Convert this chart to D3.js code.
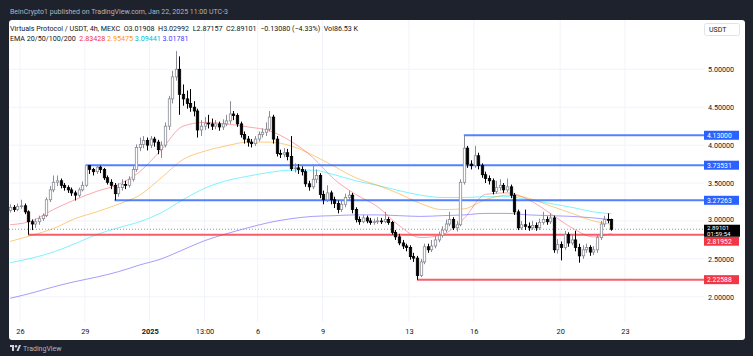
<!DOCTYPE html>
<html><head><meta charset="utf-8">
<script src="https://cdn.jsdelivr.net/npm/d3@7"></script>
<style>
html,body{margin:0;padding:0;background:#1e222d;}
svg{display:block;font-family:Roboto,"Liberation Sans",sans-serif;}
</style></head>
<body>
<svg id="c" width="753" height="356"></svg>
<script>
// ---------- DATA ----------
const firstOpen = 3.14;
const closes = [
3.18,3.15,3.19,3.20,3.12,2.99,2.96,2.99,3.03,3.07,
3.28,3.41,3.51,3.53,3.47,3.44,3.41,3.37,3.34,3.41,
3.47,3.73,3.68,3.65,3.71,3.68,3.57,3.51,3.47,3.36,
3.44,3.48,3.47,3.55,3.68,3.97,4.01,4.06,4.00,4.08,
4.04,3.94,4.00,4.25,4.61,4.90,5.00,4.67,4.61,4.55,
4.50,4.45,4.20,4.25,4.29,4.28,4.25,4.28,4.24,4.28,
4.32,4.41,4.39,4.28,4.14,4.08,4.04,4.02,4.08,4.14,
4.17,4.21,4.37,4.08,3.89,3.88,3.90,3.85,3.69,3.70,
3.68,3.65,3.49,3.45,3.55,3.60,3.35,3.28,3.37,3.28,
3.23,3.15,3.22,3.31,3.34,3.15,3.02,2.99,3.04,3.00,
2.98,2.99,3.00,2.99,3.02,2.98,2.85,2.79,2.71,2.67,
2.65,2.53,2.51,2.28,2.46,2.66,2.62,2.67,2.75,2.81,
2.88,2.96,3.02,2.91,2.95,3.51,3.96,3.75,3.73,3.86,
3.73,3.61,3.56,3.53,3.39,3.44,3.47,3.41,3.45,3.34,
3.12,2.91,2.95,2.93,2.91,2.94,2.91,2.98,3.02,2.99,
3.04,2.62,2.69,2.65,2.82,2.71,2.75,2.65,2.54,2.62,
2.65,2.59,2.62,2.78,2.96,3.02,3.01908,2.89101];
const highs = [
3.22,3.21,3.23,3.28,3.23,3.14,3.02,3.03,3.07,3.10,
3.31,3.46,3.60,3.60,3.56,3.50,3.47,3.44,3.40,3.44,
3.52,3.7353,3.72,3.70,3.73,3.73,3.70,3.60,3.55,3.50,
3.50,3.55,3.53,3.59,3.72,4.01,4.10,4.12,4.10,4.12,
4.11,4.07,4.05,4.30,4.65,4.98,5.24,5.17,4.80,4.72,
4.74,4.58,4.48,4.33,4.37,4.40,4.35,4.33,4.31,4.34,
4.40,4.58,4.45,4.42,4.31,4.18,4.12,4.08,4.12,4.18,
4.22,4.30,4.45,4.40,4.12,3.94,3.96,3.95,4.12,3.76,
3.75,3.72,3.68,3.53,3.75,3.68,3.63,3.40,3.47,3.40,
3.32,3.27,3.28,3.36,3.40,3.37,3.18,3.06,3.08,3.07,
3.04,3.03,3.05,3.04,3.12,3.05,3.00,2.88,2.83,2.75,
2.70,2.68,2.58,2.54,2.50,2.70,2.70,2.75,2.80,2.86,
2.93,3.02,3.12,3.05,3.00,3.55,4.13,3.99,3.80,3.99,
3.90,3.76,3.65,3.60,3.56,3.53,3.55,3.50,3.56,3.48,
3.37,3.15,3.00,3.15,2.98,3.00,2.98,3.03,3.12,3.06,
3.10,3.07,2.76,2.73,2.87,2.85,2.82,2.87,2.70,2.68,
2.70,2.68,2.67,2.82,3.00,3.07,3.10,3.02992];
const lows = [
3.11,3.12,3.13,3.16,3.09,2.82,2.88,2.91,2.95,3.00,
3.05,3.25,3.38,3.46,3.43,3.40,3.37,3.33,3.27,3.31,
3.39,3.45,3.62,3.60,3.62,3.63,3.54,3.48,3.42,3.2726,
3.32,3.40,3.42,3.44,3.52,3.65,3.92,3.96,3.93,3.96,
3.98,3.88,3.83,3.97,4.20,4.55,4.85,4.40,4.52,4.48,
4.44,4.38,4.10,4.12,4.20,4.22,4.20,4.21,4.19,4.20,
4.25,4.28,4.33,4.24,4.10,4.02,3.98,3.97,3.99,4.05,
4.10,4.12,4.18,4.02,3.85,3.83,3.84,3.80,3.66,3.64,
3.62,3.60,3.45,3.40,3.42,3.50,3.30,3.22,3.25,3.22,
3.17,3.10,3.12,3.18,3.27,3.10,2.98,2.95,2.97,2.97,
2.95,2.95,2.96,2.96,2.97,2.95,2.82,2.75,2.68,2.63,
2.60,2.49,2.46,2.2259,2.26,2.43,2.58,2.59,2.64,2.72,
2.78,2.85,2.93,2.88,2.86,2.93,3.48,3.70,3.68,3.70,
3.68,3.57,3.50,3.48,3.35,3.36,3.40,3.37,3.38,3.30,
3.08,2.88,2.88,2.88,2.87,2.88,2.87,2.88,2.95,2.95,
2.96,2.58,2.57,2.48,2.62,2.66,2.68,2.60,2.45,2.50,
2.58,2.54,2.55,2.58,2.75,2.92,2.97,2.87157];

// EMA values at every 6th candle (last = latest candle)
const emaIdx = [0,6,12,18,24,30,36,42,48,54,60,66,72,78,84,90,96,102,108,114,120,126,132,138,144,150,156,162,167];
const ema20  = [2.95,3.00,3.15,3.28,3.39,3.48,3.65,3.94,4.25,4.30,4.28,4.24,4.19,4.05,3.84,3.55,3.35,3.19,2.94,2.78,2.82,3.03,3.35,3.37,3.28,3.10,2.91,2.79,2.83428];
const ema50  = [2.73,2.81,2.90,3.03,3.12,3.22,3.34,3.57,3.81,3.92,3.99,4.04,4.04,3.99,3.87,3.72,3.57,3.47,3.36,3.23,3.15,3.16,3.28,3.34,3.30,3.20,3.10,3.00,2.95475];
const ema100 = [2.45,2.51,2.59,2.70,2.82,2.91,2.99,3.11,3.28,3.43,3.53,3.59,3.64,3.67,3.67,3.61,3.53,3.47,3.40,3.34,3.31,3.31,3.32,3.32,3.28,3.23,3.18,3.12,3.09441];
const ema200 = [1.98,2.05,2.13,2.20,2.26,2.33,2.42,2.50,2.62,2.74,2.83,2.91,2.98,3.03,3.06,3.07,3.08,3.08,3.07,3.06,3.07,3.08,3.10,3.10,3.08,3.07,3.06,3.04,3.01781];

// Horizontal levels: value, candle index where they start, kind
const levelValues = [4.13, 3.73531, 3.27263, 2.81952, 2.22588];
const levelStart  = [126, 21, 29, 5, 113];
const levelKind   = ["blue","blue","blue","red","red"];

const priceTicks = [2.0,2.5,3.0,3.5,4.0,4.5,5.0];
const xTickDates = ["2024-12-26T00:00","2024-12-29T00:00","2025-01-01T00:00","2025-01-03T13:00","2025-01-06T00:00","2025-01-09T00:00","2025-01-13T00:00","2025-01-16T00:00","2025-01-20T00:00","2025-01-23T00:00"];
const xTickLabels = ["26","29","2025","13:00","6","9","13","16","20","23"];

const lastPrice = 2.89101;
const countdown = "01:59:54";
const headerText = "BeinCrypto1 published on TradingView.com, Jan 22, 2025 11:00 UTC-3";
const legend1 = "Virtuals Protocol / USDT, 4h, MEXC  O3.01908  H3.02992  L2.87157  C2.89101  −0.13080 (−4.33%)  Vol86.53 K";
const emaLabel = "EMA 20/50/100/200";

// ---------- SETUP ----------
const parse = d3.utcParse("%Y-%m-%dT%H:%M");
const t0 = parse("2024-12-25T13:00");
const H4 = 4*3600*1000;
const candles = closes.map((c,i)=>({
  t: new Date(t0.getTime()+i*H4),
  o: i===0 ? firstOpen : closes[i-1], h: highs[i], l: lows[i], c: c
}));

const svg = d3.select("#c");
const x = d3.scaleTime().domain([parse("2024-12-26T00:00"), parse("2025-01-23T00:00")]).range([20,625]);
const y = d3.scaleLinear().domain([2,5]).range([296.8,69.3]);

const BLUE="#2962ff", RED="#f23645";
const c20="#f7525f", c50="#ff9800", c100="#00e5ff", c200="#4d3bff";

// header
svg.append("text").attr("x",10).attr("y",14).attr("fill","#b2b5be").attr("font-size",7).text(headerText);
// panel
svg.append("rect").attr("x",9).attr("y",20).attr("width",736).attr("height",320).attr("rx",3).attr("fill","#fff");
// footer logo
const lg = svg.append("g").attr("transform","translate(10,345)");
lg.append("rect").attr("x",0).attr("y",0).attr("width",4).attr("height",2).attr("fill","#d1d4dc");
lg.append("rect").attr("x",2).attr("y",0).attr("width",2).attr("height",6).attr("fill","#d1d4dc");
lg.append("circle").attr("cx",6).attr("cy",1.2).attr("r",1.2).attr("fill","#d1d4dc");
lg.append("path").attr("d","M6.5,6 L9,0 L11,0 L8.5,6 Z").attr("fill","#d1d4dc");
lg.append("text").attr("x",13).attr("y",6).attr("fill","#b2b5be").attr("font-size",7).text("TradingView");

// clip
svg.append("clipPath").attr("id","pc").append("rect").attr("x",9).attr("y",20).attr("width",695).attr("height",302);
const plot = svg.append("g").attr("clip-path","url(#pc)");

// grid
const xTicks = xTickDates.map(parse);
plot.selectAll("line.vg").data(xTicks).join("line").attr("class","vg")
  .attr("x1",d=>x(d)).attr("x2",d=>x(d)).attr("y1",20).attr("y2",322)
  .attr("stroke","#f0f3fa").attr("stroke-width",1);
plot.selectAll("line.hg").data(priceTicks).join("line").attr("class","hg")
  .attr("x1",9).attr("x2",704).attr("y1",d=>y(d)).attr("y2",d=>y(d))
  .attr("stroke","#f0f3fa").attr("stroke-width",1);

// EMA lines
const emaLine = d3.line().x(d=>x(candles[d[0]].t)).y(d=>y(d[1])).curve(d3.curveMonotoneX);
[[ema200,c200],[ema100,c100],[ema50,c50],[ema20,c20]].forEach(([arr,col])=>{
  plot.append("path").datum(emaIdx.map((k,j)=>[k,arr[j]]))
    .attr("d",emaLine).attr("fill","none").attr("stroke",col).attr("stroke-width",1).attr("stroke-opacity",0.5);
});

// current price dotted line
plot.append("line").attr("x1",9).attr("x2",704).attr("y1",y(lastPrice)).attr("y2",y(lastPrice))
  .attr("stroke","#9598a1").attr("stroke-width",1).attr("stroke-dasharray","1,2");

// levels
levelValues.forEach((v,i)=>{
  plot.append("line").attr("x1",x(candles[levelStart[i]].t)).attr("x2",704)
    .attr("y1",y(v)).attr("y2",y(v))
    .attr("stroke",levelKind[i]==="blue"?BLUE:RED).attr("stroke-width",2).attr("stroke-opacity",0.8);
});

// candles
const bw = 2.4;
const cg = plot.append("g");
cg.selectAll("line.w").data(candles).join("line").attr("class","w")
  .attr("x1",d=>Math.round(x(d.t))+0.5).attr("x2",d=>Math.round(x(d.t))+0.5)
  .attr("y1",d=>y(d.h)).attr("y2",d=>y(d.l))
  .attr("stroke",d=>d.c>=d.o?"#8a8d96":"#000").attr("stroke-width",1);
cg.selectAll("rect.b").data(candles).join("rect").attr("class","b")
  .attr("x",d=>Math.round(x(d.t))+0.5-bw/2).attr("width",bw)
  .attr("y",d=>y(Math.max(d.o,d.c))).attr("height",d=>Math.max(0.8,Math.abs(y(d.o)-y(d.c))))
  .attr("fill",d=>d.c>=d.o?"#ffffff":"#000").attr("stroke",d=>d.c>=d.o?"#8a8d96":"#000").attr("stroke-width",0.8);

// legend
const lt = svg.append("g");
lt.append("text").attr("x",10).attr("y",31).attr("fill","#131722").attr("font-size",7.15).style("white-space","pre").text(legend1);
const l2 = lt.append("text").attr("x",10).attr("y",41).attr("font-size",7.15).style("white-space","pre");
l2.append("tspan").attr("fill","#131722").text(emaLabel+"  ");
[[ema20,RED],[ema50,c50],[ema100,"#00bcd4"],[ema200,c200]].forEach(([arr,col],i)=>{
  l2.append("tspan").attr("fill",col).text(d3.format(".5f")(arr[arr.length-1])+(i<3?" ":""));
});

// price axis
const ya = svg.append("g").attr("transform","translate(706,0)")
  .call(d3.axisRight(y).tickValues(priceTicks).tickFormat(d3.format(".5f")).tickSize(0).tickPadding(2));
ya.select(".domain").remove();
ya.selectAll("text").attr("font-size",7.2).attr("fill","#131722").attr("font-family","Roboto,sans-serif")
  .attr("dy",d=>d===3?"0.1em":"0.32em");

// USDT box
svg.append("rect").attr("x",704.5).attr("y",23.5).attr("width",35).attr("height",12).attr("rx",2).attr("fill","#fff").attr("stroke","#e0e3eb");
svg.append("text").attr("x",709).attr("y",32).attr("font-size",7).attr("fill","#131722").text("USDT");

// level labels (the 2.81952 label is pushed down below the current-price label)
const py = y(lastPrice);
const labelY = [y(4.13), y(3.73531), y(3.27263), py + 12, y(2.22588)];
levelValues.forEach((v,i)=>{
  const col = levelKind[i]==="blue"?BLUE:RED;
  svg.append("rect").attr("x",704).attr("y",labelY[i]-4.5).attr("width",35).attr("height",9).attr("fill",col);
  svg.append("text").attr("x",707).attr("y",labelY[i]+2.5).attr("font-size",6.8).attr("fill","#fff").text(d3.format(".5f")(v));
});
// current price label
svg.append("rect").attr("x",704).attr("y",py-4.5).attr("width",36).attr("height",12).attr("fill","#000");
svg.append("text").attr("x",707).attr("y",py+1.2).attr("font-size",6.1).attr("fill","#fff").text(d3.format(".5f")(lastPrice));
svg.append("text").attr("x",707).attr("y",py+6.8).attr("font-size",6.1).attr("fill","#fff").text(countdown);

// time axis
const xa = svg.append("g").attr("transform","translate(0,327)")
  .call(d3.axisBottom(x).tickValues(xTicks).tickFormat((d,i)=>xTickLabels[i]).tickSize(0).tickPadding(2));
xa.select(".domain").remove();
xa.selectAll("text").attr("font-size",7.4).attr("fill","#131722").attr("font-family","Roboto,sans-serif")
  .attr("font-weight",(d,i)=>xTickLabels[i]==="2025"?"bold":"normal");
</script>
</body></html>
